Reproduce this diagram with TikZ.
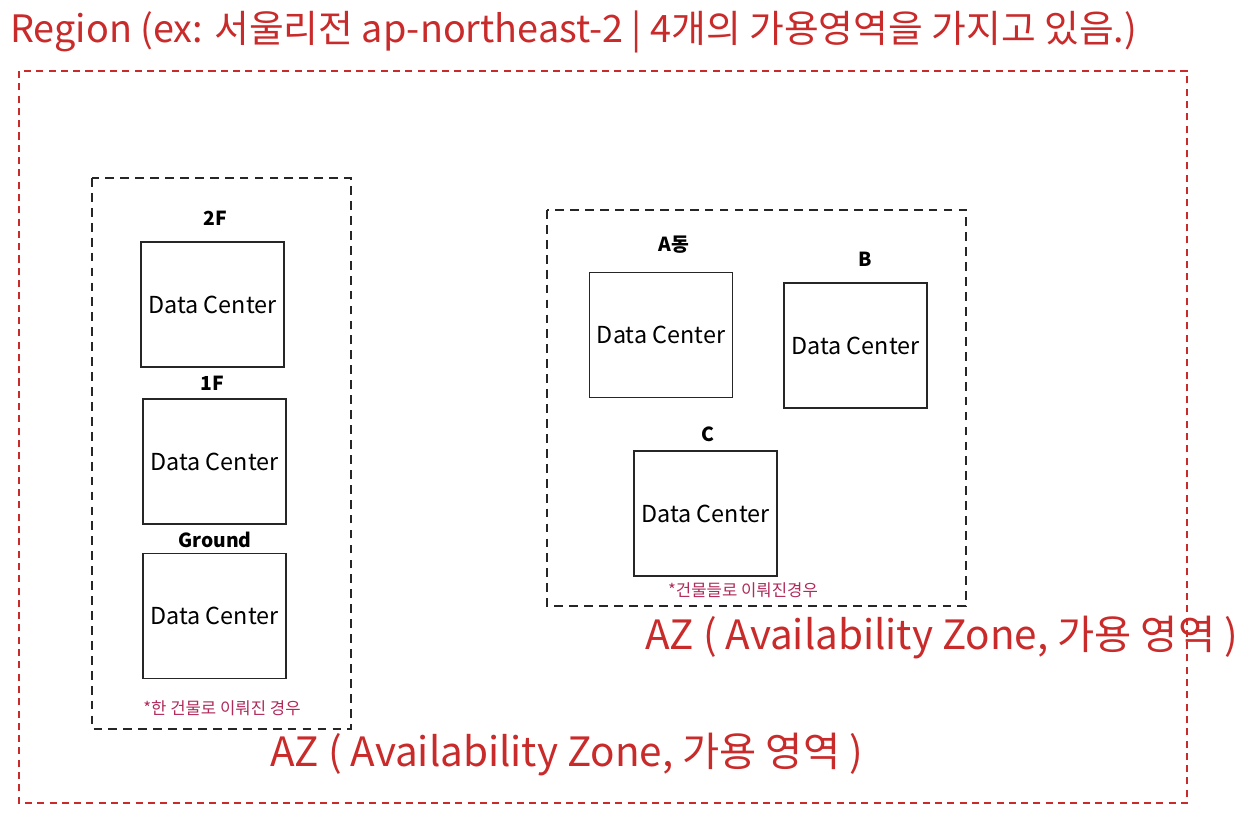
\documentclass[tikz,border=0pt]{standalone}
\usepackage{fontspec}
\setmainfont{Noto Sans CJK KR}
\usetikzlibrary{positioning}
\definecolor{regionred}{HTML}{C92A2A}
\definecolor{noteberry}{HTML}{B02A5B}
\tikzset{
  dcbox/.style={draw=black!85, line width=1pt, minimum width=143*0.02cm, minimum height=125*0.02cm, inner sep=0pt, font=\fontsize{13.3}{15}\selectfont},
  azbox/.style={draw=black!85, line width=0.8pt, dash pattern=on 5pt off 3.5pt},
  floorlabel/.style={font=\fontsize{11}{13}\selectfont\bfseries, inner sep=1pt},
  note/.style={text=noteberry, font=\fontsize{9.5}{11}\selectfont, inner sep=1pt},
  azlabel/.style={text=regionred, font=\fontsize{23}{26}\selectfont, inner sep=0pt}
}
\begin{document}
\begin{tikzpicture}[x=0.02cm,y=-0.02cm]
			%%%%% START %%%%%
			\useasboundingbox (0,0) rectangle (1251,812);
			
			\node[text=regionred, font=\fontsize{21.5}{24}\selectfont, anchor=west, inner sep=0pt] (title) at (10,32) {Region (ex: 서울리전 ap-northeast-2 | 4개의 가용영역을 가지고 있음.)};
			\draw[regionred, line width=0.8pt, dash pattern=on 4pt off 3pt] (19,71) rectangle (1187,803);
			
			%% AZ with floors
			\draw[azbox] (92,178) rectangle (351,729);
			\node[dcbox] (dctwo) at (212.5,304.5) {Data Center};
			\node[dcbox] (dcone) at (214.5,461.5) {Data Center};
			\node[dcbox] (dcground) at (214.5,616) {Data Center};
			\node[floorlabel] (ltwo) at (215,218) {2F};
			\node[floorlabel] (lone) at (212,383) {1F};
			\node[floorlabel] (lground) at (215,540) {Ground};
			\node[note] (noteone) at (222,708) {*한 건물로 이뤄진 경우};
			\node[azlabel, anchor=west] (azone) at (270,755) {AZ ( Availability Zone, 가용 영역 )};
			
			%% AZ with buildings
			\draw[azbox] (547,210) rectangle (966,606);
			\node[dcbox] (dca) at (661,335) {Data Center};
			\node[dcbox] (dcb) at (855.5,345.5) {Data Center};
			\node[dcbox] (dcc) at (705.5,513.5) {Data Center};
			\node[floorlabel] (la) at (674,245) {A동};
			\node[floorlabel] (lb) at (865,259) {B};
			\node[floorlabel] (lc) at (708,434) {C};
			\node[note] (notetwo) at (743,590) {*건물들로 이뤄진경우};
			\node[azlabel, anchor=west] (aztwo) at (645,638) {AZ ( Availability Zone, 가용 영역 )};
			
			%%%%% END %%%%%
\end{tikzpicture}
\end{document}
